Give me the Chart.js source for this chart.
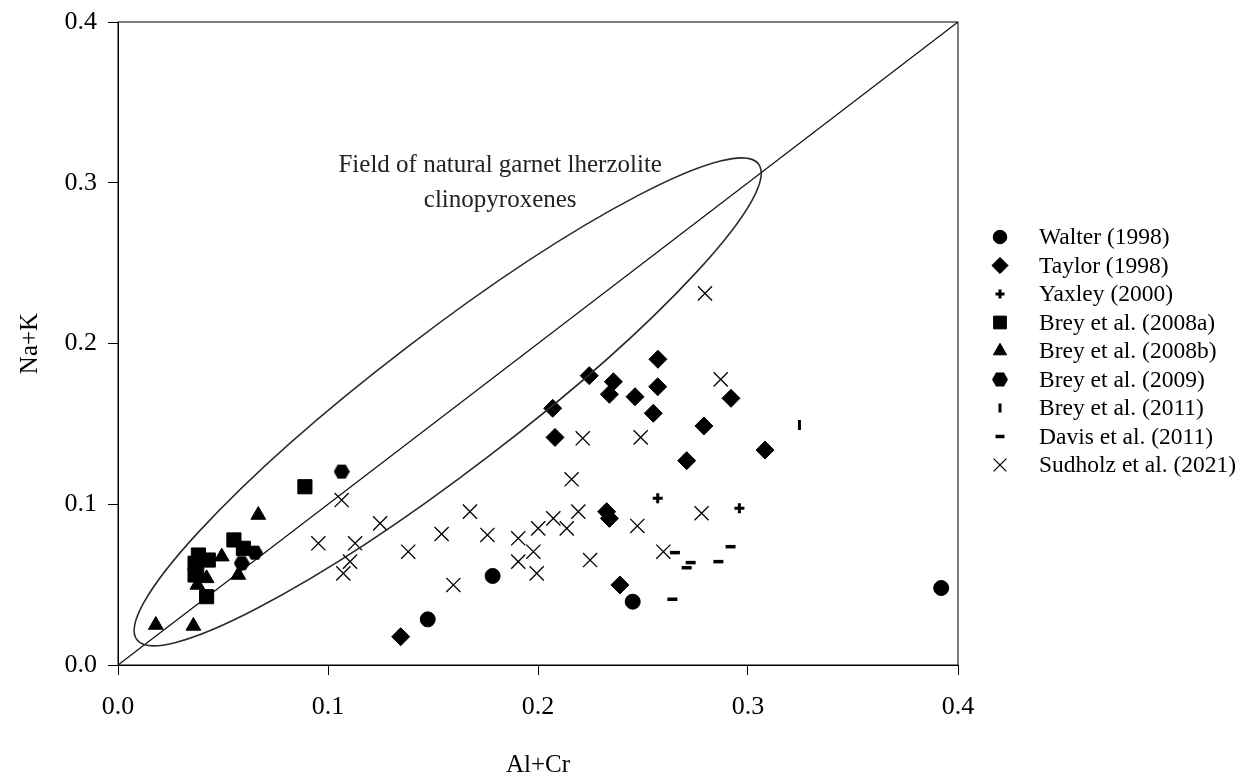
<!DOCTYPE html>
<html>
<head>
<meta charset="utf-8">
<script src="https://cdn.jsdelivr.net/npm/chart.js@4.4.1/dist/chart.umd.min.js"></script>
<style>
html, body { margin: 0; padding: 0; background: #fff; }
#wrap { width: 1242px; height: 780px; }
</style>
</head>
<body>
<div id="wrap"><canvas id="scatterChart" width="1242" height="780"></canvas></div>
<script>
// data: [Al+Cr, Na+K]
const walter = [[0.1475, 0.0284], [0.1784, 0.0554], [0.2451, 0.0394], [0.392, 0.0479]];
const taylor = [
    [0.2571, 0.1902], [0.2244, 0.1800], [0.2359, 0.1762], [0.2340, 0.1684],
    [0.2462, 0.1669], [0.2570, 0.1731], [0.2549, 0.1566], [0.2070, 0.1597],
    [0.2081, 0.1416], [0.2919, 0.1659], [0.2790, 0.1487], [0.2708, 0.1271],
    [0.3081, 0.1337], [0.2327, 0.0954], [0.2340, 0.0912], [0.2390, 0.0498],
    [0.1346, 0.0176]
];
const yaxley = [[0.2570, 0.1037], [0.2959, 0.0975]];
const brey2008a = [
    [0.0890, 0.1109], [0.0552, 0.0778], [0.0597, 0.0726], [0.0383, 0.0684],
    [0.0430, 0.0653], [0.0367, 0.0633], [0.0367, 0.0560], [0.0375, 0.0591],
    [0.0422, 0.0425]
];
const brey2008b = [
    [0.0668, 0.0933], [0.0494, 0.0674], [0.0180, 0.0249], [0.0359, 0.0243],
    [0.0422, 0.0539], [0.0378, 0.0498], [0.0573, 0.0560]
];
const brey2009 = [[0.1065, 0.1203], [0.0652, 0.0699], [0.0589, 0.0633]];
const brey2011 = [[0.3245, 0.1493]];
const davis2011 = [
    [0.2652, 0.0699], [0.2727, 0.0637], [0.2708, 0.0605], [0.2640, 0.0409],
    [0.2917, 0.0736], [0.2859, 0.0643]
];
const sudholz2021 = [
    [0.2795, 0.2312], [0.2870, 0.1777], [0.2213, 0.1410], [0.2489, 0.1416],
    [0.2160, 0.1155], [0.1065, 0.1026], [0.1676, 0.0954], [0.2779, 0.0944],
    [0.1248, 0.0881], [0.2192, 0.0954], [0.2073, 0.0912], [0.2137, 0.0850],
    [0.2001, 0.0850], [0.2473, 0.0865], [0.0954, 0.0757], [0.1129, 0.0757],
    [0.1541, 0.0815], [0.1759, 0.0809], [0.1906, 0.0788], [0.1382, 0.0705],
    [0.1978, 0.0705], [0.1906, 0.0643], [0.2248, 0.0653], [0.2597, 0.0705],
    [0.1105, 0.0643], [0.1073, 0.0570], [0.1597, 0.0498], [0.1994, 0.0570]
];
const oneToOne = [[0, 0], [0.4, 0.4]];

const xTitle = 'Al+Cr';
const yTitle = 'Na+K';
const fieldLabel = ['Field of natural garnet lherzolite', 'clinopyroxenes'];
const fieldLabelPos = [0.182, 0.311, 0.289];
// ellipse: centre, half length along the 1:1 direction, width/length ratio
const fieldCentre = [0.157, 0.1637];
const fieldHalf = 0.148;
const fieldRatio = 0.174;

const SERIF = "'Liberation Serif', 'Times New Roman', serif";

function hexagon(size) {
    const c = document.createElement('canvas');
    c.width = size;
    c.height = size;
    const g = c.getContext('2d');
    g.fillStyle = '#000';
    g.beginPath();
    for (let i = 0; i < 6; i++) {
        const a = Math.PI / 3 * i;
        const px = size / 2 + (size / 2) * Math.cos(a);
        const py = size / 2 + (size / 2) * Math.sin(a);
        if (i === 0) g.moveTo(px, py); else g.lineTo(px, py);
    }
    g.closePath();
    g.fill();
    return c;
}

function pts(arr) {
    return arr.map(p => ({ x: p[0], y: p[1] }));
}

function series(label, arr, style) {
    return Object.assign({
        label: label,
        data: pts(arr),
        showLine: false,
        backgroundColor: '#000',
        borderColor: '#000',
        pointBackgroundColor: '#000',
        pointBorderColor: '#000',
        pointBorderWidth: 1,
        pointRotation: 0
    }, style);
}

const datasets = [
    series('Walter (1998)', walter, { pointStyle: 'circle', pointRadius: 7.5 }),
    series('Taylor (1998)', taylor, { pointStyle: 'rectRot', pointRadius: 9 }),
    series('Yaxley (2000)', yaxley, { pointStyle: 'cross', pointRadius: 5, pointBorderWidth: 3 }),
    series('Brey et al. (2008a)', brey2008a, { pointStyle: 'rect', pointRadius: 10 }),
    series('Brey et al. (2008b)', brey2008b, { pointStyle: 'triangle', pointRadius: 8.5 }),
    series('Brey et al. (2009)', brey2009, { pointStyle: hexagon(16), pointRadius: 8 }),
    series('Brey et al. (2011)', brey2011, { pointStyle: 'line', pointRadius: 5, pointBorderWidth: 3, pointRotation: 90 }),
    series('Davis et al. (2011)', davis2011, { pointStyle: 'line', pointRadius: 5, pointBorderWidth: 3.5 }),
    series('Sudholz et al. (2021)', sudholz2021, { pointStyle: 'crossRot', pointRadius: 10, pointBorderWidth: 1.3 })
];

// 1:1 line
datasets.push({
    label: '1:1',
    data: pts(oneToOne),
    type: 'line',
    showLine: true,
    borderColor: '#111',
    borderWidth: 1.3,
    pointRadius: 0,
    fill: false
});

const extras = {
    id: 'extras',
    afterDatasetsDraw(chart) {
        const ctx = chart.ctx;
        const xs = chart.scales.x;
        const ys = chart.scales.y;
        const area = chart.chartArea;

        // frame top/right
        ctx.save();
        ctx.strokeStyle = '#000';
        ctx.lineWidth = 1;
        ctx.strokeRect(area.left, area.top, area.right - area.left, area.bottom - area.top);

        // field ellipse
        const x1 = xs.getPixelForValue(fieldCentre[0] - fieldHalf);
        const y1 = ys.getPixelForValue(fieldCentre[1] - fieldHalf);
        const x2 = xs.getPixelForValue(fieldCentre[0] + fieldHalf);
        const y2 = ys.getPixelForValue(fieldCentre[1] + fieldHalf);
        const a = Math.hypot(x2 - x1, y2 - y1) / 2;
        const ang = Math.atan2(y2 - y1, x2 - x1);
        ctx.beginPath();
        ctx.ellipse((x1 + x2) / 2, (y1 + y2) / 2, a, a * fieldRatio, ang, 0, Math.PI * 2);
        ctx.strokeStyle = '#2a2a2a';
        ctx.lineWidth = 1.6;
        ctx.stroke();

        // field label
        ctx.fillStyle = '#222';
        ctx.font = '25px ' + SERIF;
        ctx.textAlign = 'center';
        ctx.textBaseline = 'middle';
        const lx = xs.getPixelForValue(fieldLabelPos[0]);
        ctx.fillText(fieldLabel[0], lx, ys.getPixelForValue(fieldLabelPos[1]));
        ctx.fillText(fieldLabel[1], lx, ys.getPixelForValue(fieldLabelPos[2]));

        // legend
        const mx = area.right + 42;
        const tx = area.right + 81;
        ctx.font = '23.5px ' + SERIF;
        ctx.textAlign = 'left';
        let ly = 237;
        chart.data.datasets.forEach(ds => {
            if (ds.type === 'line') return;
            ctx.fillStyle = '#000';
            ctx.strokeStyle = '#000';
            ctx.lineWidth = ds.pointBorderWidth;
            Chart.helpers.drawPoint(ctx, {
                pointStyle: ds.pointStyle,
                rotation: ds.pointRotation,
                radius: ds.pointRadius * 0.9,
                borderWidth: ds.pointBorderWidth
            }, mx, ly);
            ctx.fillStyle = '#000';
            ctx.fillText(ds.label, tx, ly + 1);
            ly += 28.5;
        });
        ctx.restore();
    }
};

Chart.defaults.font.family = SERIF;
Chart.defaults.color = '#000';

new Chart(document.getElementById('scatterChart').getContext('2d'), {
    type: 'scatter',
    data: { datasets: datasets },
    options: {
        responsive: false,
        animation: false,
        layout: { padding: { top: 22, right: 284, bottom: 0, left: 0 } },
        plugins: {
            legend: { display: false },
            tooltip: { enabled: false }
        },
        scales: {
            x: {
                type: 'linear',
                min: 0,
                max: 0.4,
                ticks: {
                    stepSize: 0.1,
                    padding: 17,
                    font: { size: 26 },
                    callback: v => v.toFixed(1)
                },
                grid: { drawOnChartArea: false, drawTicks: true, tickLength: 10, color: '#000' },
                border: { display: true, color: '#000', width: 1 },
                title: { display: true, text: xTitle, font: { size: 25 }, padding: { top: 3, bottom: 0 } },
                afterFit: s => { s.height = 115; }
            },
            y: {
                type: 'linear',
                min: 0,
                max: 0.4,
                ticks: {
                    stepSize: 0.1,
                    padding: 11,
                    font: { size: 26 },
                    callback: v => v.toFixed(1)
                },
                grid: { drawOnChartArea: false, drawTicks: true, tickLength: 10, color: '#000' },
                border: { display: true, color: '#000', width: 1 },
                title: { display: true, text: yTitle, font: { size: 25 }, padding: { top: 15, bottom: 0 } },
                afterFit: s => {
                    s.width = 118;
                    s.paddingTop = 0;
                    s.paddingBottom = 0;
                }
            }
        }
    },
    plugins: [extras]
});
</script>
</body>
</html>
